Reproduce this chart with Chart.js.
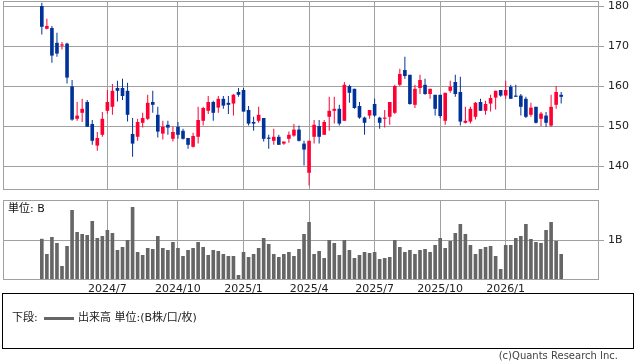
<!DOCTYPE html>
<html lang="ja">
<head>
<meta charset="utf-8">
<title>週足チャート</title>
<script src="https://cdn.jsdelivr.net/npm/chart.js@4.4.1/dist/chart.umd.min.js"></script>
<style>
    body { margin: 0; background: #fff; font-family: "DejaVu Sans", "Noto Sans CJK JP", sans-serif; }
    #wrap { position: relative; width: 638px; height: 362px; overflow: hidden; }
    #priceChart { position: absolute; left: 0; top: 0; }
    #volumeChart { position: absolute; left: 0; top: 195px; }
    .legend-box {
        position: absolute; left: 2px; top: 293px; width: 632px; height: 56px;
        box-sizing: border-box; border: 1px solid #000; font-size: 11px; color: #222;
    }
    .legend-box span { position: absolute; top: 17px; line-height: 14px; white-space: nowrap; }
    .legend-line { position: absolute; left: 41px; top: 23px; width: 30px; height: 3px; background: #666; }
    .credit { position: absolute; right: 20px; top: 350px; font-size: 10px; color: #444; white-space: nowrap; }
</style>
</head>
<body>
<div id="wrap">
    <canvas id="priceChart" width="638" height="195"></canvas>
    <canvas id="volumeChart" width="638" height="100"></canvas>
    <div class="legend-box">
        <span style="left: 9px;">下段:</span>
        <div class="legend-line"></div>
        <span style="left: 75px;">出来高 単位:(B株/口/枚)</span>
    </div>
    <div class="credit">(c)Quants Research Inc.</div>
</div>
<script>
// 週足 (2024/4/1 の週から)
const firstWeek = '2024-04-01';
const monthLabels = ['2024/7', '2024/10', '2025/1', '2025/4', '2025/7', '2025/10', '2026/1'];
const priceTicks = [140, 150, 160, 170, 180];
const volumeTicks = [1];
const volumeTickLabels = ['1B'];

const openPrices = [
    180.0, 174.3, 174.5, 170.8, 170.1, 170.6, 159.9, 151.8, 153.3, 156.0,
    150.5, 145.1, 147.8, 153.8, 154.8, 159.5, 159.5, 158.8, 148.0, 147.3,
    150.8, 151.8, 156.0, 152.8, 148.1, 150.3, 146.8, 149.8, 148.8, 147.0,
    144.8, 147.3, 151.3, 153.8, 156.0, 154.6, 156.8, 155.8, 155.6, 158.5,
    159.0, 154.0, 151.0, 151.3, 152.0, 147.1, 146.3, 147.3, 145.6, 146.8,
    147.6, 149.1, 145.6, 138.3, 147.3, 150.0, 147.8, 152.3, 153.8, 154.3,
    151.3, 160.0, 159.3, 155.0, 152.1, 152.6, 155.5, 152.1, 151.8, 152.3,
    153.3, 160.3, 164.0, 162.8, 155.3, 159.5, 160.3, 158.0, 157.8, 157.8,
    151.3, 158.8, 161.0, 158.5, 150.8, 151.1, 152.3, 156.0, 153.8, 155.6,
    157.1, 159.0, 157.6, 159.8, 157.6, 157.6, 156.8, 152.8, 154.8, 151.8,
    152.6, 150.1, 155.3, 157.8
];
const highPrices = [
    180.8, 176.8, 175.0, 173.3, 171.0, 170.8, 161.5, 156.0, 156.8, 156.5,
    151.5, 148.5, 153.5, 159.0, 160.5, 161.3, 161.8, 160.8, 152.0, 151.8,
    153.3, 157.8, 158.8, 154.8, 151.3, 151.3, 149.8, 151.0, 149.3, 147.0,
    148.3, 154.8, 154.8, 157.5, 156.3, 157.5, 157.5, 157.5, 158.0, 159.5,
    159.5, 155.0, 152.3, 154.8, 152.0, 147.8, 149.3, 147.8, 146.1, 148.6,
    150.5, 150.1, 146.3, 146.3, 151.5, 151.5, 151.5, 157.3, 157.3, 155.3,
    161.0, 160.3, 159.3, 156.0, 152.3, 154.0, 156.8, 152.3, 154.0, 156.0,
    160.3, 164.3, 167.3, 162.8, 160.3, 162.8, 161.8, 159.3, 157.8, 157.8,
    158.3, 161.3, 162.8, 162.3, 154.8, 154.8, 156.0, 156.8, 156.3, 157.8,
    158.8, 159.0, 161.3, 160.3, 160.3, 158.0, 157.3, 155.8, 154.8, 153.5,
    153.5, 157.8, 160.0, 158.5
];
const lowPrices = [
    172.9, 174.2, 165.8, 167.3, 169.1, 160.6, 151.3, 151.3, 151.0, 149.8,
    145.3, 143.8, 147.3, 153.1, 152.8, 156.1, 156.5, 151.1, 142.3, 146.3,
    149.6, 151.5, 153.3, 147.1, 146.6, 147.8, 146.1, 146.8, 146.6, 144.3,
    144.6, 145.6, 150.1, 153.0, 151.3, 153.3, 154.3, 153.0, 152.6, 157.3,
    153.6, 150.1, 148.8, 150.8, 146.1, 144.3, 145.3, 145.3, 145.3, 145.8,
    147.3, 146.1, 140.1, 135.1, 145.6, 145.6, 147.8, 148.8, 150.6, 150.1,
    151.3, 155.8, 154.3, 151.8, 147.8, 151.8, 152.3, 149.3, 149.6, 150.3,
    153.0, 160.0, 161.8, 155.3, 154.5, 158.0, 157.8, 156.8, 152.6, 152.0,
    150.3, 158.3, 157.3, 150.1, 150.6, 150.6, 151.6, 153.8, 152.8, 153.6,
    154.1, 157.3, 156.8, 156.8, 157.3, 152.6, 152.0, 152.3, 150.6, 150.0,
    149.8, 149.8, 154.3, 155.6
];
const closePrices = [
    174.8, 175.0, 167.6, 168.1, 170.4, 162.1, 151.6, 152.6, 154.3, 149.8,
    146.3, 147.0, 151.8, 156.0, 158.8, 158.8, 157.5, 152.8, 145.6, 151.0,
    152.0, 155.8, 155.3, 148.6, 149.8, 149.6, 148.5, 147.8, 146.8, 145.3,
    147.5, 151.5, 154.5, 156.0, 153.3, 156.8, 155.1, 155.3, 157.8, 157.8,
    153.6, 150.6, 150.6, 152.8, 146.8, 146.8, 147.3, 145.3, 146.1, 147.8,
    149.1, 146.3, 144.1, 146.3, 150.3, 147.3, 151.0, 153.8, 154.3, 150.6,
    160.3, 158.3, 154.5, 152.1, 150.8, 154.0, 152.6, 150.8, 152.1, 156.0,
    160.0, 163.0, 162.5, 155.5, 159.3, 161.5, 158.0, 159.3, 154.3, 152.5,
    158.3, 159.8, 158.0, 151.1, 151.3, 154.3, 155.8, 153.8, 155.5, 157.0,
    158.8, 157.6, 159.0, 156.8, 157.3, 154.8, 152.3, 154.6, 150.8, 153.1,
    150.8, 154.8, 158.5, 157.3
];
// 出来高 (単位: B)
const volumes = [
    1.03, 0.65, 1.075, 0.925, 0.35, 0.85, 1.75, 1.2, 1.15, 1.125,
    1.475, 1.05, 1.1, 1.25, 1.175, 0.75, 0.825, 1.0, 1.825, 0.7,
    0.625, 0.8, 0.775, 1.1, 0.8, 0.75, 0.95, 0.8, 0.6, 0.75,
    0.8, 0.95, 0.825, 0.625, 0.75, 0.725, 0.65, 0.6, 0.6, 0.125,
    0.7, 0.575, 0.65, 0.8, 1.05, 0.9, 0.65, 0.575, 0.65, 0.7,
    0.6, 0.775, 1.15, 1.45, 0.65, 0.725, 0.55, 1.0, 0.925, 0.625,
    1.0, 0.75, 0.55, 0.625, 0.7, 0.675, 0.7, 0.525, 0.55, 0.575,
    1.0, 0.825, 0.7, 0.75, 0.65, 0.75, 0.775, 0.7, 0.875, 1.05,
    0.8, 0.975, 1.175, 1.4, 1.15, 0.875, 0.65, 0.775, 0.825, 0.85,
    0.6, 0.275, 0.875, 0.875, 1.05, 1.1, 1.4, 1.025, 0.95, 0.925,
    1.25, 1.45, 0.975, 0.65
];

const upColor = '#ff0033';
const downColor = '#003399';
const gridColor = '#a0a0a0';
const tickFont = { family: '"DejaVu Sans", "Noto Sans CJK JP", sans-serif', size: 11 };

// 週の日付ラベル
const weeks = [];
const startTime = new Date(firstWeek + 'T00:00:00Z').getTime();
for (let i = 0; i < closePrices.length; i++) {
    const d = new Date(startTime + i * 7 * 86400000);
    weeks.push(d.getUTCFullYear() + '/' + (d.getUTCMonth() + 1) + '/' + d.getUTCDate());
}
// 各月の最初の週
const monthIndex = monthLabels.map(label => weeks.findIndex(w => w.startsWith(label + '/')));

const candleColors = closePrices.map((c, i) => c >= openPrices[i] ? upColor : downColor);

// ラベルのはみ出し分の余白を消す
function noPadding(scale) {
    scale.paddingTop = 0;
    scale.paddingBottom = 0;
    scale.paddingLeft = 0;
    scale.paddingRight = 0;
}

// 枠線
const frameBox = {
    id: 'frameBox',
    afterDraw(chart) {
        const { ctx, chartArea: a } = chart;
        ctx.save();
        ctx.strokeStyle = gridColor;
        ctx.lineWidth = 1;
        ctx.strokeRect(Math.round(a.left) + 0.5, Math.round(a.top) + 0.5,
            Math.round(a.right - a.left) - 1, Math.round(a.bottom - a.top) - 1);
        if (chart.options.plugins.frameBox && chart.options.plugins.frameBox.unitText) {
            ctx.fillStyle = '#111';
            ctx.font = '11px "DejaVu Sans", "Noto Sans CJK JP", sans-serif';
            ctx.textBaseline = 'middle';
            ctx.fillText(chart.options.plugins.frameBox.unitText, a.left + 5, a.top + 9);
        }
        ctx.restore();
    }
};

function monthAxis(showLabels, height) {
    return {
        type: 'linear',
        min: -7.7,
        max: 110.5,
        offset: false,
        afterBuildTicks: scale => { scale.ticks = monthIndex.map(v => ({ value: v })); },
        afterFit: scale => { scale.height = height; noPadding(scale); },
        grid: { color: gridColor, drawTicks: false, offset: false },
        border: { display: false },
        ticks: {
            display: showLabels,
            autoSkip: false,
            maxRotation: 0,
            padding: 3,
            color: '#222',
            font: tickFont,
            callback: value => monthLabels[monthIndex.indexOf(value)]
        }
    };
}

function valueAxis(min, max, ticks, labels) {
    return {
        position: 'right',
        min: min,
        max: max,
        afterBuildTicks: scale => { scale.ticks = ticks.map(v => ({ value: v })); },
        afterFit: scale => { scale.width = 39; noPadding(scale); },
        grid: { color: gridColor, tickLength: 5 },
        border: { display: false },
        ticks: {
            padding: 4, color: '#222', font: tickFont,
            callback: value => labels ? labels[ticks.indexOf(value)] : value
        }
    };
}

// 株価 (ローソク足)
new Chart(document.getElementById('priceChart'), {
    type: 'bar',
    data: {
        datasets: [{
            label: 'ヒゲ',
            data: weeks.map((w, i) => ({ x: i, y: [lowPrices[i], highPrices[i]] })),
            backgroundColor: candleColors,
            grouped: false,
            maxBarThickness: 1
        }, {
            label: '実体',
            data: weeks.map((w, i) => ({ x: i, y: [openPrices[i], closePrices[i]] })),
            backgroundColor: candleColors,
            grouped: false,
            maxBarThickness: 4,
            minBarLength: 1
        }]
    },
    options: {
        responsive: false,
        animation: false,
        layout: { padding: { left: 3, top: 1, right: 0, bottom: 0 } },
        plugins: { legend: { display: false }, tooltip: { enabled: false } },
        scales: {
            x: monthAxis(false, 5),
            y: valueAxis(134, 181.25, priceTicks, null)
        }
    },
    plugins: [frameBox]
});

// 出来高
new Chart(document.getElementById('volumeChart'), {
    type: 'bar',
    data: {
        datasets: [{
            label: '出来高',
            data: weeks.map((w, i) => ({ x: i, y: volumes[i] })),
            backgroundColor: '#666666',
            grouped: false,
            maxBarThickness: 4
        }]
    },
    options: {
        responsive: false,
        animation: false,
        layout: { padding: { left: 3, top: 5, right: 0, bottom: 0 } },
        plugins: { legend: { display: false }, tooltip: { enabled: false }, frameBox: { unitText: '単位: B' } },
        scales: {
            x: monthAxis(true, 15),
            y: valueAxis(0, 2, volumeTicks, volumeTickLabels)
        }
    },
    plugins: [frameBox]
});
</script>
</body>
</html>
